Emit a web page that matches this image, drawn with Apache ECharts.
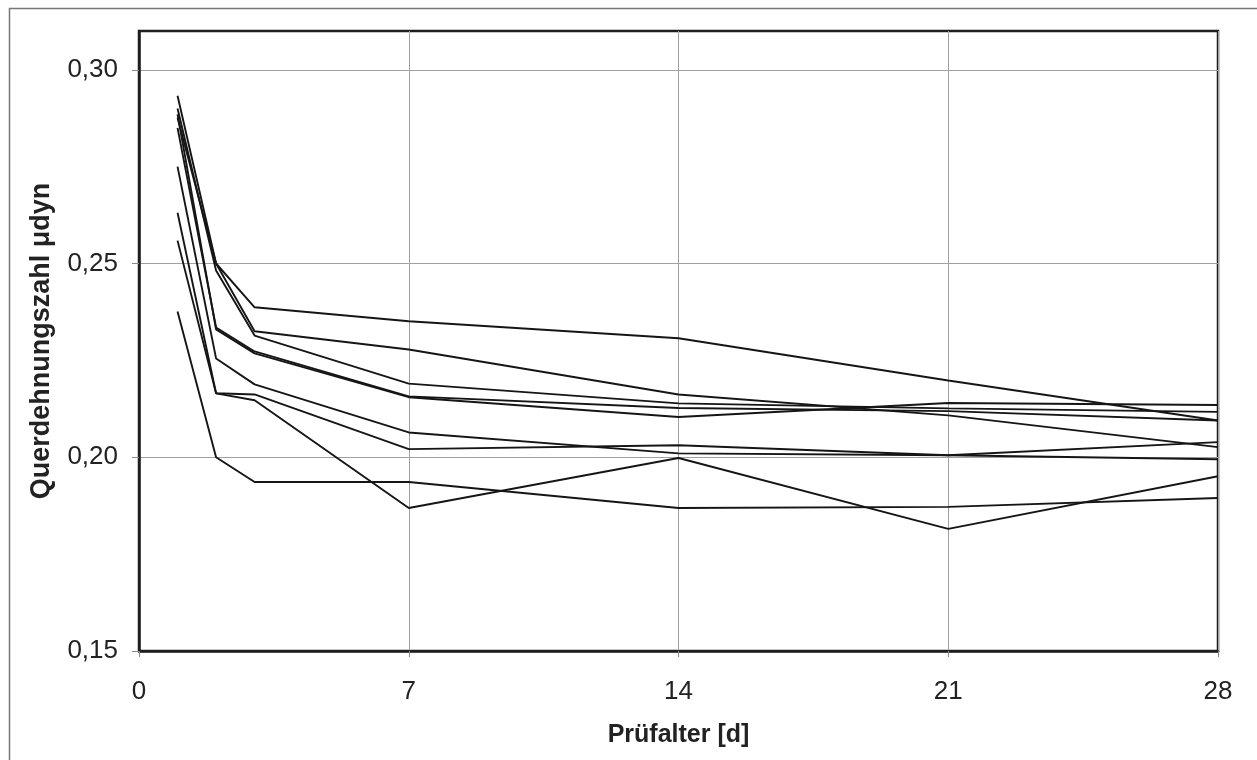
<!DOCTYPE html>
<html>
<head>
<meta charset="utf-8">
<script src="https://cdn.jsdelivr.net/npm/echarts@6/dist/echarts.min.js"></script>
<style>
html,body{margin:0;padding:0;background:#fff;}
#chart{width:1257px;height:760px;}
</style>
</head>
<body>
<div id="chart"></div>
<script>
// Prüfalter [d]
const days = [1, 2, 3, 7, 14, 21, 28];
// Querdehnungszahl μdyn, one array per specimen
const seriesA = [0.2876, 0.2500, 0.2387, 0.2351, 0.2307, 0.2198, 0.2095];
const seriesB = [0.2933, 0.2500, 0.2325, 0.2278, 0.2162, 0.2108, 0.2026];
const seriesC = [0.2900, 0.2482, 0.2314, 0.2190, 0.2139, 0.2126, 0.2117];
const seriesD = [0.2850, 0.2335, 0.2273, 0.2157, 0.2127, 0.2119, 0.2095];
const seriesE = [0.2885, 0.2330, 0.2268, 0.2155, 0.2104, 0.2140, 0.2135];
const seriesF = [0.2750, 0.2255, 0.2188, 0.2064, 0.2010, 0.2005, 0.1995];
const seriesG = [0.2631, 0.2165, 0.2162, 0.2021, 0.2031, 0.2005, 0.2039];
const seriesH = [0.2559, 0.2165, 0.2147, 0.1869, 0.1998, 0.1815, 0.1951];
const seriesI = [0.2376, 0.2000, 0.1936, 0.1936, 0.1869, 0.1872, 0.1895];
const allSeries = [seriesA, seriesB, seriesC, seriesD, seriesE, seriesF, seriesG, seriesH, seriesI];
const xTicks = [0, 7, 14, 21, 28];
const yTicks = [0.15, 0.20, 0.25, 0.30];
const xTitle = 'Prüfalter [d]';
const yTitle = 'Querdehnungszahl μdyn';

const chart = echarts.init(document.getElementById('chart'), null, {renderer: 'canvas'});
const font = '"Liberation Sans", Arial, sans-serif';
chart.setOption({
  animation: false,
  backgroundColor: '#fff',
  graphic: [{
    type: 'rect', left: 7, top: 6, z: -1,
    shape: {x: 0, y: 0, width: 1249, height: 770},
    style: {fill: 'none', stroke: '#777', lineWidth: 1.5}
  }],
  grid: {left: 139, right: 39, top: 31, bottom: 109, show: true,
    borderColor: '#1e1e1e', borderWidth: 2.5, backgroundColor: 'transparent'},
  xAxis: {
    type: 'value', min: xTicks[0], max: xTicks[xTicks.length - 1], interval: 7,
    name: xTitle, nameLocation: 'middle', nameGap: 72,
    nameTextStyle: {fontFamily: font, fontSize: 25, fontWeight: 'bold', color: '#222'},
    axisLine: {show: true, lineStyle: {color: '#1e1e1e', width: 2.5}},
    axisTick: {show: true, length: 6, lineStyle: {color: '#888', width: 1}},
    axisLabel: {fontFamily: font, fontSize: 26, color: '#222', margin: 28},
    splitLine: {show: true, lineStyle: {color: '#a0a0a0', width: 1}}
  },
  yAxis: {
    type: 'value', min: yTicks[0], max: 0.31, interval: 0.05,
    name: yTitle, nameLocation: 'middle', nameGap: 84, nameRotate: 90,
    nameTextStyle: {fontFamily: font, fontSize: 27, fontWeight: 'bold', color: '#222'},
    axisLine: {show: true, lineStyle: {color: '#1e1e1e', width: 2.5}},
    axisTick: {show: true, length: 7, lineStyle: {color: '#888', width: 1}, customValues: yTicks},
    axisLabel: {fontFamily: font, fontSize: 26, color: '#222', margin: 21,
      customValues: yTicks,
      formatter: v => v.toFixed(2).replace('.', ',')},
    splitLine: {show: true, lineStyle: {color: '#a0a0a0', width: 1}}
  },
  series: allSeries.map(vals => ({
    type: 'line',
    data: days.map((d, i) => [d, vals[i]]),
    showSymbol: false,
    lineStyle: {color: '#151515', width: 1.9},
    z: 3
  }))
});
</script>
</body>
</html>
